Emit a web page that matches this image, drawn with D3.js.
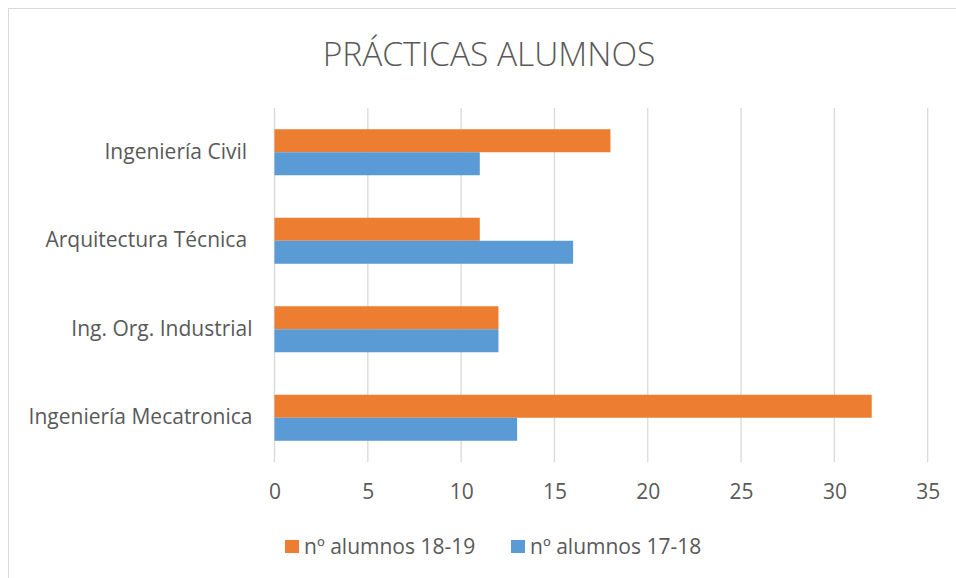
<!DOCTYPE html>
<html>
<head>
<meta charset="utf-8">
<script src="https://cdn.jsdelivr.net/npm/d3@7"></script>
<style>
  body { margin: 0; background: #fff; }
  svg text { font-family: "Open Sans", Lato, sans-serif; fill: #595959; white-space: pre; }
</style>
</head>
<body>
<svg id="chart" width="956" height="578"></svg>
<script>
// Values.
const categories = ["Ingeniería Civil ", "Arquitectura Técnica ", "Ing. Org. Industrial", "Ingeniería Mecatronica"];
const series = ["nº alumnos 18-19", "nº alumnos 17-18"];
const values1819 = [18, 11, 12, 32];
const values1718 = [11, 16, 12, 13];
const xTicks = [0, 5, 10, 15, 20, 25, 30, 35];
const colors = ["#ED7D31", "#5B9BD5"];

const svg = d3.select("#chart");

// Chart frame (the reference is cropped on the right and bottom).
svg.append("rect")
  .attr("x", 8.5).attr("y", 8.5)
  .attr("width", 1000).attr("height", 1000)
  .attr("fill", "none").attr("stroke", "#d9d9d9").attr("stroke-width", 1);

svg.append("text")
  .attr("x", 489).attr("y", 65.5)
  .attr("text-anchor", "middle")
  .attr("font-family", "Lato, sans-serif")
  .attr("font-size", 33.5).attr("font-weight", 300)
  .text("PRÁCTICAS ALUMNOS");

const plot = { left: 274.5, right: 927.7, top: 108, bottom: 462 };

const x = d3.scaleLinear().domain([0, 35]).range([plot.left, plot.right]);
const y = d3.scaleBand().domain(categories).range([plot.top, plot.bottom]).paddingInner(0.48).paddingOuter(0.24);
const ySub = d3.scaleBand().domain(series).range([0, y.bandwidth()]);

// Gridlines
svg.append("g")
  .selectAll("line")
  .data(xTicks)
  .join("line")
  .attr("x1", d => x(d)).attr("x2", d => x(d))
  .attr("y1", plot.top).attr("y2", plot.bottom)
  .attr("stroke", "#d9d9d9").attr("stroke-width", 1.3);

const rows = categories.map((c, i) => ({ cat: c, vals: [values1819[i], values1718[i]] }));

svg.append("g")
  .selectAll("g")
  .data(rows)
  .join("g")
  .attr("transform", d => `translate(0,${y(d.cat)})`)
  .selectAll("rect")
  .data(d => d.vals.map((v, j) => ({ s: series[j], v, j })))
  .join("rect")
  .attr("x", x(0))
  .attr("y", d => ySub(d.s))
  .attr("width", d => x(d.v) - x(0))
  .attr("height", ySub.bandwidth())
  .attr("fill", d => colors[d.j]);

// Category labels
const yAxis = d3.axisLeft(y).tickSize(0).tickPadding(0);
svg.append("g")
  .attr("transform", `translate(${plot.left - 22},0)`)
  .call(yAxis)
  .call(g => g.select(".domain").remove())
  .selectAll("text")
  .attr("font-size", 21)
  .attr("fill", "#595959");

// Value axis labels
const xAxis = d3.axisBottom(x).tickValues(xTicks).tickSize(0).tickPadding(0);
svg.append("g")
  .attr("transform", `translate(0,${plot.bottom + 22})`)
  .call(xAxis)
  .call(g => g.select(".domain").remove())
  .selectAll("text")
  .attr("font-size", 21)
  .attr("fill", "#595959");

svg.selectAll(".tick text").attr("font-family", "'Open Sans', Lato, sans-serif");

// Legend
const legendX = [285, 511];
const legend = svg.append("g")
  .selectAll("g")
  .data(series)
  .join("g")
  .attr("transform", (d, i) => `translate(${legendX[i]},540)`);
legend.append("rect")
  .attr("width", 14).attr("height", 13)
  .attr("fill", (d, i) => colors[i]);
legend.append("text")
  .attr("x", 19).attr("y", 13.5)
  .attr("font-size", 21)
  .text(d => d);
</script>
</body>
</html>
